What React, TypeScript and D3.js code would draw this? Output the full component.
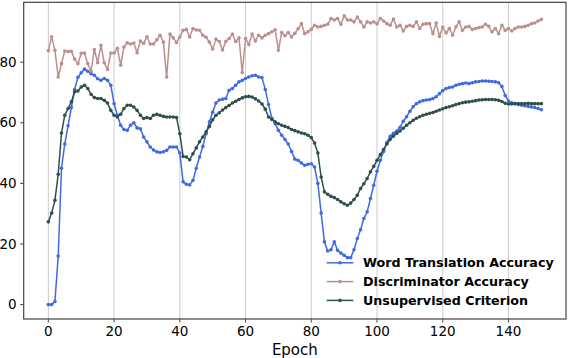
import React from "react";
import * as d3 from "d3";

const epochs: number[] = d3.range(0, 151);

const wordTranslation: number[] = [
  0, 0, 1, 16, 45, 53, 59, 65, 71, 75,
  76.5, 77.7, 77, 76.2, 75.7, 74.5, 74, 74.6, 74, 72.4,
  66.3, 62.5, 59.2, 57.8, 57.5, 59.2, 60, 58.3, 58, 55.3,
  53.7, 52, 51, 50.4, 50.2, 50.4, 50.9, 52, 52, 52,
  50, 40.5, 39.7, 39.5, 41, 45, 48.7, 52.2, 56.4, 60.3,
  63.5, 66.5, 67.5, 67.8, 68, 70.7, 71.3, 72.4, 73.5, 74,
  74.6, 75.1, 75.5, 75.7, 75.1, 74.9, 71, 66, 61.5, 59.7,
  57.5, 55.9, 54.5, 53, 50.5, 48, 47.6, 46.7, 46, 46.3,
  46.5, 45.4, 40, 30.2, 20.7, 17.7, 18.1, 20.7, 17.9, 17,
  16.3, 15.5, 15.5, 18.1, 21.8, 24.7, 28.4, 30.6, 35, 39.4,
  44, 47.6, 50.5, 53.5, 55.5, 56.5, 57.3, 58.5, 60.5, 62,
  63.8, 65.3, 66.3, 66.9, 67.3, 67.5, 67.7, 68, 68.6, 69.6,
  70.6, 71.3, 71.6, 71.8, 72.4, 72.7, 72.9, 73.1, 72.9, 73.2,
  73.5, 73.6, 73.8, 73.8, 73.7, 73.6, 73.5, 73.2, 72, 69,
  67.2, 66.6, 66.3, 66, 65.8, 65.6, 65.4, 65.2, 65, 64.7,
  64.3,
];

const discriminator: number[] = [
  83.8, 88.4, 83.9, 75.1, 79.5, 83.7, 83.5, 83.6, 81, 79.5,
  82.9, 83, 79.5, 77, 84.2, 79.8, 85.6, 79.8, 77.6, 83,
  83, 84.6, 79, 85, 86.4, 86, 86.3, 83.1, 87, 86.2,
  88.4, 86, 86, 87.4, 88.9, 86.6, 75.1, 89.3, 88, 86.5,
  88.3, 90.5, 90.8, 88.3, 91.1, 90.6, 90.5, 88.9, 88.2, 86.6,
  84.3, 87.6, 86.8, 84, 86.9, 87.8, 89.3, 86.8, 88, 76.6,
  87.8, 85.8, 89.3, 87, 88.9, 88, 88.9, 89.4, 90, 90.7,
  83.9, 89.8, 88.7, 89.8, 88.3, 89.5, 91, 92.7, 89.4, 90,
  90.8, 92.2, 91.6, 91.8, 92.2, 92.5, 94.4, 93.9, 94.4, 92.5,
  95.3, 93.9, 93.9, 93.3, 94.9, 93.3, 91.6, 93.3, 92.9, 93.3,
  92.6, 94.4, 93.6, 92.7, 92.2, 94.2, 91.6, 92.2, 90.3, 91.8,
  92.2, 91.8, 93.3, 91.1, 92.5, 92.7, 92.7, 89.4, 92.9, 88.5,
  91.6, 89.6, 91.1, 88.9, 91.6, 93.3, 90.5, 91.6, 91.8, 90.8,
  91.1, 91.4, 91.6, 92.5, 91.8, 90, 91.1, 89.4, 92.2, 90.5,
  91.1, 90.3, 91.1, 91.6, 91.6, 91.8, 92.2, 92.7, 92.9, 93.6,
  94.1,
];

const unsupervised: number[] = [
  27.3, 30.2, 34.4, 43, 56.6, 62.5, 64.7, 66.9, 70.2, 70.5,
  71.8, 72.4, 71.3, 69.4, 68.3, 68, 68, 67.4, 66.5, 64.1,
  62.5, 61.9, 62.8, 64.7, 65.8, 65.8, 65.2, 64.1, 62.5, 61.4,
  61.7, 61.4, 62.5, 62.8, 62.5, 62.1, 61.9, 61.9, 61.9, 61.7,
  56.4, 48.9, 48.7, 47.8, 49.8, 51.7, 53.7, 55.3, 57, 58.8,
  61, 62.5, 63.3, 64.2, 65, 65.7, 66.5, 67.1, 67.7, 68.2,
  68.6, 68.7, 68.5, 67.9, 67.2, 66.2, 64.5, 61.9, 61.1, 60.3,
  59.7, 59.2, 58.8, 58.4, 57.8, 57.4, 57, 56.6, 56.4, 55.9,
  55.1, 53.3, 50, 42.1, 37.2, 36.4, 35.7, 35.3, 34.7, 33.9,
  33.3, 32.8, 33.5, 34.7, 36.1, 38.3, 39.9, 41.6, 43.8, 45.6,
  47.6, 49.5, 51.2, 53, 54.5, 55.6, 56.5, 57.3, 58.2, 59.2,
  60, 60.8, 61.5, 62, 62.5, 62.8, 63.1, 63.4, 63.8, 64.2,
  64.6, 65, 65.3, 65.6, 66, 66.3, 66.6, 66.8, 66.9, 67.1,
  67.3, 67.5, 67.6, 67.7, 67.7, 67.7, 67.6, 67.4, 67, 66.4,
  66.2, 66.2, 66.3, 66.3, 66.3, 66.3, 66.4, 66.3, 66.3, 66.3,
  66.3,
];

const xTicks: number[] = [0, 20, 40, 60, 80, 100, 120, 140];
const yTicks: number[] = [0, 20, 40, 60, 80];

const seriesNames: string[] = [
  "Word Translation Accuracy",
  "Discriminator Accuracy",
  "Unsupervised Criterion",
];
const seriesColors: string[] = ["#4169E1", "#BC8F8F", "#2F4F4F"];
const xLabel = "Epoch";

const W = 568;
const H = 358;
const left = 23.7;
const right = 566;
const top = 2.3;
const bottom = 319;
const font = "DejaVu Sans, sans-serif";

export default function App() {
  const x = d3.scaleLinear().domain([-7.5, 157.5]).range([left, right]);
  const y = d3.scaleLinear().domain([-4.75, 99.75]).range([bottom, top]);
  const allSeries = [wordTranslation, discriminator, unsupervised];
  const line = d3
    .line<number>()
    .x((_, i) => x(epochs[i]))
    .y((d) => y(d));
  const spine = "#444";

  // draw order: word, discriminator, unsupervised on top
  return (
    <svg
      width={W}
      height={H}
      style={{ position: "absolute", left: 0, top: 0, background: "#fff" }}
      fontFamily={font}
    >
      <rect x={0} y={0} width={W} height={H} fill="#fff" />
      {xTicks.map((t) => (
        <line
          key={"g" + t}
          x1={x(t)}
          x2={x(t)}
          y1={top}
          y2={bottom}
          stroke="#cccccc"
          strokeWidth={1}
        />
      ))}
      {allSeries.map((s, k) => (
        <g key={"s" + k}>
          <path
            d={line(s) || ""}
            fill="none"
            stroke={seriesColors[k]}
            strokeWidth={1.5}
            strokeLinejoin="round"
          />
          {s.map((v, i) => (
            <circle
              key={i}
              cx={x(epochs[i])}
              cy={y(v)}
              r={1.8}
              fill={seriesColors[k]}
            />
          ))}
        </g>
      ))}
      <rect
        x={left}
        y={top}
        width={right - left}
        height={bottom - top}
        fill="none"
        stroke={spine}
        strokeWidth={1.2}
      />
      {xTicks.map((t) => (
        <g key={"xt" + t}>
          <line x1={x(t)} x2={x(t)} y1={bottom} y2={bottom + 3.5} stroke={spine} strokeWidth={1} />
          <text
            x={x(t)}
            y={bottom + 17}
            textAnchor="middle"
            fontSize={13.5}
            fill="#000"
          >
            {t}
          </text>
        </g>
      ))}
      {yTicks.map((t) => (
        <g key={"yt" + t}>
          <line x1={left - 3.5} x2={left} y1={y(t)} y2={y(t)} stroke={spine} strokeWidth={1} />
          <text
            x={left - 7}
            y={y(t)}
            dy="0.35em"
            textAnchor="end"
            fontSize={13.5}
            fill="#000"
          >
            {t}
          </text>
        </g>
      ))}
      <text
        x={(left + right) / 2}
        y={355}
        textAnchor="middle"
        fontSize={15}
        fill="#000"
      >
        {xLabel}
      </text>
      {seriesNames.map((name, k) => {
        const ly = 262.8 + k * 18.8;
        return (
          <g key={"l" + k}>
            <line x1={326.7} x2={353.3} y1={ly} y2={ly} stroke={seriesColors[k]} strokeWidth={1.5} />
            <circle cx={340} cy={ly} r={1.8} fill={seriesColors[k]} />
            <text
              x={363}
              y={ly}
              dy="0.36em"
              fontSize={12.7}
              fontWeight="bold"
              fill="#000"
            >
              {name}
            </text>
          </g>
        );
      })}
    </svg>
  );
}
